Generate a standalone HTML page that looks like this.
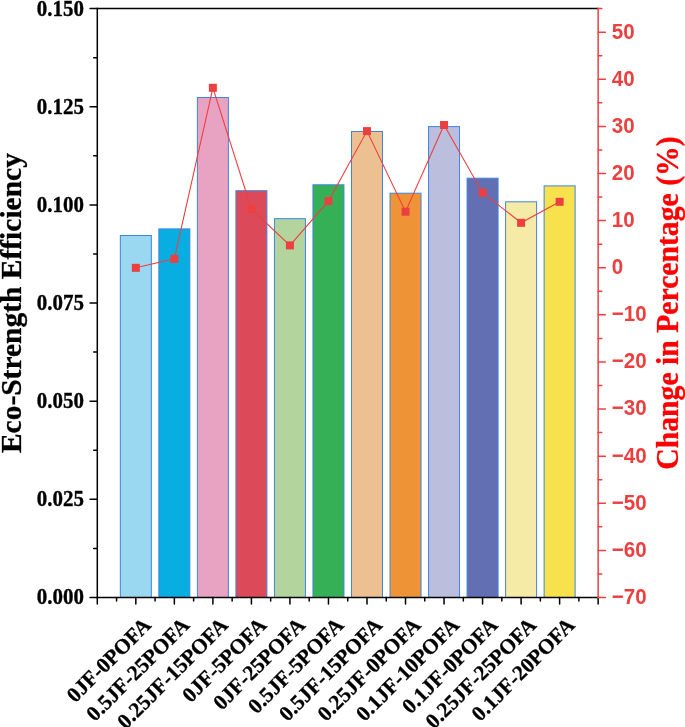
<!DOCTYPE html>
<html><head><meta charset="utf-8"><style>
html,body{margin:0;padding:0;background:#fff;width:685px;height:727px;overflow:hidden}
svg{display:block;will-change:transform}
.lt{font:bold 21.4px "Liberation Serif",serif;fill:#000;stroke:#000;stroke-width:0.35px}
.xt{font:bold 21.4px "Liberation Serif",serif;fill:#000;stroke:#000;stroke-width:0.3px}
.rt{font:bold 21px "Liberation Sans",sans-serif;fill:#EC4040}
.ttl{font:bold 29.5px "Liberation Serif",serif;stroke:#000;stroke-width:0.3px}
.ttl2{font:bold 29.7px "Liberation Serif",serif;stroke:#f00;stroke-width:0.3px}
text{font-kerning:none}
</style></head><body>
<svg width="685" height="727" viewBox="0 0 685 727">
<rect x="120.33" y="235.50" width="31" height="362.00" fill="#9AD7F1" stroke="#3D85E0" stroke-width="1"/>
<rect x="158.85" y="228.90" width="31" height="368.60" fill="#08AEE2" stroke="#3D85E0" stroke-width="1"/>
<rect x="197.38" y="97.50" width="31" height="500.00" fill="#E8A3C3" stroke="#3D85E0" stroke-width="1"/>
<rect x="235.91" y="190.70" width="31" height="406.80" fill="#DC4A5A" stroke="#3D85E0" stroke-width="1"/>
<rect x="274.43" y="218.70" width="31" height="378.80" fill="#B4D49D" stroke="#3D85E0" stroke-width="1"/>
<rect x="312.96" y="184.80" width="31" height="412.70" fill="#36B057" stroke="#3D85E0" stroke-width="1"/>
<rect x="351.49" y="131.50" width="31" height="466.00" fill="#ECC091" stroke="#3D85E0" stroke-width="1"/>
<rect x="390.02" y="193.20" width="31" height="404.30" fill="#EF9337" stroke="#3D85E0" stroke-width="1"/>
<rect x="428.54" y="126.60" width="31" height="470.90" fill="#BBBEDD" stroke="#3D85E0" stroke-width="1"/>
<rect x="467.07" y="178.20" width="31" height="419.30" fill="#6270B3" stroke="#3D85E0" stroke-width="1"/>
<rect x="505.60" y="201.80" width="31" height="395.70" fill="#F5EAA6" stroke="#3D85E0" stroke-width="1"/>
<rect x="544.12" y="185.90" width="31" height="411.60" fill="#F7E24E" stroke="#3D85E0" stroke-width="1"/>
<polyline points="135.83,267.80 174.35,258.90 212.88,87.80 251.41,209.00 289.93,245.40 328.46,201.10 366.99,131.10 405.52,211.70 444.04,125.00 482.57,192.70 521.10,222.80 559.62,201.80" fill="none" stroke="#EC4040" stroke-width="1.1"/>
<rect x="131.83" y="263.80" width="8" height="8" fill="#EC4040"/>
<rect x="170.35" y="254.90" width="8" height="8" fill="#EC4040"/>
<rect x="208.88" y="83.80" width="8" height="8" fill="#EC4040"/>
<rect x="247.41" y="205.00" width="8" height="8" fill="#EC4040"/>
<rect x="285.93" y="241.40" width="8" height="8" fill="#EC4040"/>
<rect x="324.46" y="197.10" width="8" height="8" fill="#EC4040"/>
<rect x="362.99" y="127.10" width="8" height="8" fill="#EC4040"/>
<rect x="401.52" y="207.70" width="8" height="8" fill="#EC4040"/>
<rect x="440.04" y="121.00" width="8" height="8" fill="#EC4040"/>
<rect x="478.57" y="188.70" width="8" height="8" fill="#EC4040"/>
<rect x="517.10" y="218.80" width="8" height="8" fill="#EC4040"/>
<rect x="555.62" y="197.80" width="8" height="8" fill="#EC4040"/>
<line x1="97.3" y1="8.6" x2="598.15" y2="8.6" stroke="#000" stroke-width="1.5"/>
<line x1="97.3" y1="7.85" x2="97.3" y2="598.25" stroke="#000" stroke-width="1.5"/>
<line x1="96.55" y1="597.5" x2="598.9" y2="597.5" stroke="#000" stroke-width="1.5"/>
<line x1="90.05" y1="597.50" x2="97.3" y2="597.50" stroke="#000" stroke-width="1.5" stroke-linecap="round"/>
<text text-anchor="end" class="lt" transform="translate(84 604.45) scale(0.98 1.05)">0.000</text>
<line x1="90.05" y1="499.35" x2="97.3" y2="499.35" stroke="#000" stroke-width="1.5" stroke-linecap="round"/>
<text text-anchor="end" class="lt" transform="translate(84 506.30) scale(0.98 1.05)">0.025</text>
<line x1="90.05" y1="401.20" x2="97.3" y2="401.20" stroke="#000" stroke-width="1.5" stroke-linecap="round"/>
<text text-anchor="end" class="lt" transform="translate(84 408.15) scale(0.98 1.05)">0.050</text>
<line x1="90.05" y1="303.05" x2="97.3" y2="303.05" stroke="#000" stroke-width="1.5" stroke-linecap="round"/>
<text text-anchor="end" class="lt" transform="translate(84 310.00) scale(0.98 1.05)">0.075</text>
<line x1="90.05" y1="204.90" x2="97.3" y2="204.90" stroke="#000" stroke-width="1.5" stroke-linecap="round"/>
<text text-anchor="end" class="lt" transform="translate(84 211.85) scale(0.98 1.05)">0.100</text>
<line x1="90.05" y1="106.75" x2="97.3" y2="106.75" stroke="#000" stroke-width="1.5" stroke-linecap="round"/>
<text text-anchor="end" class="lt" transform="translate(84 113.70) scale(0.98 1.05)">0.125</text>
<line x1="90.05" y1="8.60" x2="97.3" y2="8.60" stroke="#000" stroke-width="1.5" stroke-linecap="round"/>
<text text-anchor="end" class="lt" transform="translate(84 15.55) scale(0.98 1.05)">0.150</text>
<line x1="93.7" y1="548.42" x2="97.3" y2="548.42" stroke="#000" stroke-width="1.5" stroke-linecap="round"/>
<line x1="93.7" y1="450.27" x2="97.3" y2="450.27" stroke="#000" stroke-width="1.5" stroke-linecap="round"/>
<line x1="93.7" y1="352.12" x2="97.3" y2="352.12" stroke="#000" stroke-width="1.5" stroke-linecap="round"/>
<line x1="93.7" y1="253.97" x2="97.3" y2="253.97" stroke="#000" stroke-width="1.5" stroke-linecap="round"/>
<line x1="93.7" y1="155.83" x2="97.3" y2="155.83" stroke="#000" stroke-width="1.5" stroke-linecap="round"/>
<line x1="93.7" y1="57.67" x2="97.3" y2="57.67" stroke="#000" stroke-width="1.5" stroke-linecap="round"/>
<line x1="97.30" y1="597.5" x2="97.30" y2="604.05" stroke="#000" stroke-width="1.5" stroke-linecap="round"/>
<line x1="135.83" y1="597.5" x2="135.83" y2="604.05" stroke="#000" stroke-width="1.5" stroke-linecap="round"/>
<line x1="174.35" y1="597.5" x2="174.35" y2="604.05" stroke="#000" stroke-width="1.5" stroke-linecap="round"/>
<line x1="212.88" y1="597.5" x2="212.88" y2="604.05" stroke="#000" stroke-width="1.5" stroke-linecap="round"/>
<line x1="251.41" y1="597.5" x2="251.41" y2="604.05" stroke="#000" stroke-width="1.5" stroke-linecap="round"/>
<line x1="289.93" y1="597.5" x2="289.93" y2="604.05" stroke="#000" stroke-width="1.5" stroke-linecap="round"/>
<line x1="328.46" y1="597.5" x2="328.46" y2="604.05" stroke="#000" stroke-width="1.5" stroke-linecap="round"/>
<line x1="366.99" y1="597.5" x2="366.99" y2="604.05" stroke="#000" stroke-width="1.5" stroke-linecap="round"/>
<line x1="405.52" y1="597.5" x2="405.52" y2="604.05" stroke="#000" stroke-width="1.5" stroke-linecap="round"/>
<line x1="444.04" y1="597.5" x2="444.04" y2="604.05" stroke="#000" stroke-width="1.5" stroke-linecap="round"/>
<line x1="482.57" y1="597.5" x2="482.57" y2="604.05" stroke="#000" stroke-width="1.5" stroke-linecap="round"/>
<line x1="521.10" y1="597.5" x2="521.10" y2="604.05" stroke="#000" stroke-width="1.5" stroke-linecap="round"/>
<line x1="559.62" y1="597.5" x2="559.62" y2="604.05" stroke="#000" stroke-width="1.5" stroke-linecap="round"/>
<line x1="598.15" y1="597.5" x2="598.15" y2="604.05" stroke="#000" stroke-width="1.5" stroke-linecap="round"/>
<line x1="116.56" y1="597.5" x2="116.56" y2="601.1" stroke="#000" stroke-width="1.5" stroke-linecap="round"/>
<line x1="155.09" y1="597.5" x2="155.09" y2="601.1" stroke="#000" stroke-width="1.5" stroke-linecap="round"/>
<line x1="193.62" y1="597.5" x2="193.62" y2="601.1" stroke="#000" stroke-width="1.5" stroke-linecap="round"/>
<line x1="232.14" y1="597.5" x2="232.14" y2="601.1" stroke="#000" stroke-width="1.5" stroke-linecap="round"/>
<line x1="270.67" y1="597.5" x2="270.67" y2="601.1" stroke="#000" stroke-width="1.5" stroke-linecap="round"/>
<line x1="309.20" y1="597.5" x2="309.20" y2="601.1" stroke="#000" stroke-width="1.5" stroke-linecap="round"/>
<line x1="347.72" y1="597.5" x2="347.72" y2="601.1" stroke="#000" stroke-width="1.5" stroke-linecap="round"/>
<line x1="386.25" y1="597.5" x2="386.25" y2="601.1" stroke="#000" stroke-width="1.5" stroke-linecap="round"/>
<line x1="424.78" y1="597.5" x2="424.78" y2="601.1" stroke="#000" stroke-width="1.5" stroke-linecap="round"/>
<line x1="463.31" y1="597.5" x2="463.31" y2="601.1" stroke="#000" stroke-width="1.5" stroke-linecap="round"/>
<line x1="501.83" y1="597.5" x2="501.83" y2="601.1" stroke="#000" stroke-width="1.5" stroke-linecap="round"/>
<line x1="540.36" y1="597.5" x2="540.36" y2="601.1" stroke="#000" stroke-width="1.5" stroke-linecap="round"/>
<line x1="578.89" y1="597.5" x2="578.89" y2="601.1" stroke="#000" stroke-width="1.5" stroke-linecap="round"/>
<text x="152.23" y="626.4" text-anchor="end" class="xt" transform="rotate(-45 152.23 626.4)">0JF-0POFA</text>
<text x="190.75" y="626.4" text-anchor="end" class="xt" transform="rotate(-45 190.75 626.4)">0.5JF-25POFA</text>
<text x="229.28" y="626.4" text-anchor="end" class="xt" transform="rotate(-45 229.28 626.4)">0.25JF-15POFA</text>
<text x="267.81" y="626.4" text-anchor="end" class="xt" transform="rotate(-45 267.81 626.4)">0JF-5POFA</text>
<text x="306.33" y="626.4" text-anchor="end" class="xt" transform="rotate(-45 306.33 626.4)">0JF-25POFA</text>
<text x="344.86" y="626.4" text-anchor="end" class="xt" transform="rotate(-45 344.86 626.4)">0.5JF-5POFA</text>
<text x="383.39" y="626.4" text-anchor="end" class="xt" transform="rotate(-45 383.39 626.4)">0.5JF-15POFA</text>
<text x="421.92" y="626.4" text-anchor="end" class="xt" transform="rotate(-45 421.92 626.4)">0.25JF-0POFA</text>
<text x="460.44" y="626.4" text-anchor="end" class="xt" transform="rotate(-45 460.44 626.4)">0.1JF-10POFA</text>
<text x="498.97" y="626.4" text-anchor="end" class="xt" transform="rotate(-45 498.97 626.4)">0.1JF-0POFA</text>
<text x="537.50" y="626.4" text-anchor="end" class="xt" transform="rotate(-45 537.50 626.4)">0.25JF-25POFA</text>
<text x="576.02" y="626.4" text-anchor="end" class="xt" transform="rotate(-45 576.02 626.4)">0.1JF-20POFA</text>
<line x1="598.15" y1="7.85" x2="598.15" y2="598.25" stroke="#EC4040" stroke-width="1.5"/>
<line x1="598.15" y1="597.50" x2="605.4" y2="597.50" stroke="#EC4040" stroke-width="1.5" stroke-linecap="round"/>
<text class="rt" transform="translate(611.8 603.90) scale(0.98 1.07)">−70</text>
<line x1="598.15" y1="550.39" x2="605.4" y2="550.39" stroke="#EC4040" stroke-width="1.5" stroke-linecap="round"/>
<text class="rt" transform="translate(611.8 556.79) scale(0.98 1.07)">−60</text>
<line x1="598.15" y1="503.28" x2="605.4" y2="503.28" stroke="#EC4040" stroke-width="1.5" stroke-linecap="round"/>
<text class="rt" transform="translate(611.8 509.68) scale(0.98 1.07)">−50</text>
<line x1="598.15" y1="456.16" x2="605.4" y2="456.16" stroke="#EC4040" stroke-width="1.5" stroke-linecap="round"/>
<text class="rt" transform="translate(611.8 462.56) scale(0.98 1.07)">−40</text>
<line x1="598.15" y1="409.05" x2="605.4" y2="409.05" stroke="#EC4040" stroke-width="1.5" stroke-linecap="round"/>
<text class="rt" transform="translate(611.8 415.45) scale(0.98 1.07)">−30</text>
<line x1="598.15" y1="361.94" x2="605.4" y2="361.94" stroke="#EC4040" stroke-width="1.5" stroke-linecap="round"/>
<text class="rt" transform="translate(611.8 368.34) scale(0.98 1.07)">−20</text>
<line x1="598.15" y1="314.83" x2="605.4" y2="314.83" stroke="#EC4040" stroke-width="1.5" stroke-linecap="round"/>
<text class="rt" transform="translate(611.8 321.23) scale(0.98 1.07)">−10</text>
<line x1="598.15" y1="267.72" x2="605.4" y2="267.72" stroke="#EC4040" stroke-width="1.5" stroke-linecap="round"/>
<text class="rt" transform="translate(611.8 274.12) scale(0.98 1.07)">0</text>
<line x1="598.15" y1="220.60" x2="605.4" y2="220.60" stroke="#EC4040" stroke-width="1.5" stroke-linecap="round"/>
<text class="rt" transform="translate(611.8 227.00) scale(0.98 1.07)">10</text>
<line x1="598.15" y1="173.49" x2="605.4" y2="173.49" stroke="#EC4040" stroke-width="1.5" stroke-linecap="round"/>
<text class="rt" transform="translate(611.8 179.89) scale(0.98 1.07)">20</text>
<line x1="598.15" y1="126.38" x2="605.4" y2="126.38" stroke="#EC4040" stroke-width="1.5" stroke-linecap="round"/>
<text class="rt" transform="translate(611.8 132.78) scale(0.98 1.07)">30</text>
<line x1="598.15" y1="79.27" x2="605.4" y2="79.27" stroke="#EC4040" stroke-width="1.5" stroke-linecap="round"/>
<text class="rt" transform="translate(611.8 85.67) scale(0.98 1.07)">40</text>
<line x1="598.15" y1="32.16" x2="605.4" y2="32.16" stroke="#EC4040" stroke-width="1.5" stroke-linecap="round"/>
<text class="rt" transform="translate(611.8 38.56) scale(0.98 1.07)">50</text>
<line x1="598.15" y1="573.94" x2="601.75" y2="573.94" stroke="#EC4040" stroke-width="1.5" stroke-linecap="round"/>
<line x1="598.15" y1="526.83" x2="601.75" y2="526.83" stroke="#EC4040" stroke-width="1.5" stroke-linecap="round"/>
<line x1="598.15" y1="479.72" x2="601.75" y2="479.72" stroke="#EC4040" stroke-width="1.5" stroke-linecap="round"/>
<line x1="598.15" y1="432.61" x2="601.75" y2="432.61" stroke="#EC4040" stroke-width="1.5" stroke-linecap="round"/>
<line x1="598.15" y1="385.50" x2="601.75" y2="385.50" stroke="#EC4040" stroke-width="1.5" stroke-linecap="round"/>
<line x1="598.15" y1="338.38" x2="601.75" y2="338.38" stroke="#EC4040" stroke-width="1.5" stroke-linecap="round"/>
<line x1="598.15" y1="291.27" x2="601.75" y2="291.27" stroke="#EC4040" stroke-width="1.5" stroke-linecap="round"/>
<line x1="598.15" y1="244.16" x2="601.75" y2="244.16" stroke="#EC4040" stroke-width="1.5" stroke-linecap="round"/>
<line x1="598.15" y1="197.05" x2="601.75" y2="197.05" stroke="#EC4040" stroke-width="1.5" stroke-linecap="round"/>
<line x1="598.15" y1="149.94" x2="601.75" y2="149.94" stroke="#EC4040" stroke-width="1.5" stroke-linecap="round"/>
<line x1="598.15" y1="102.82" x2="601.75" y2="102.82" stroke="#EC4040" stroke-width="1.5" stroke-linecap="round"/>
<line x1="598.15" y1="55.71" x2="601.75" y2="55.71" stroke="#EC4040" stroke-width="1.5" stroke-linecap="round"/>
<line x1="598.15" y1="8.60" x2="601.75" y2="8.60" stroke="#EC4040" stroke-width="1.5" stroke-linecap="round"/>
<text x="0" y="0" class="ttl" text-anchor="middle" transform="translate(20.9 303.1) rotate(-90) scale(1 1.025)">Eco-Strength Efficiency</text>
<text x="0" y="0" class="ttl2" text-anchor="middle" fill="#FF0000" transform="translate(678.3 303.05) rotate(-90) scale(1 1.03)">Change in Percentage (%)</text>
</svg>
</body></html>
